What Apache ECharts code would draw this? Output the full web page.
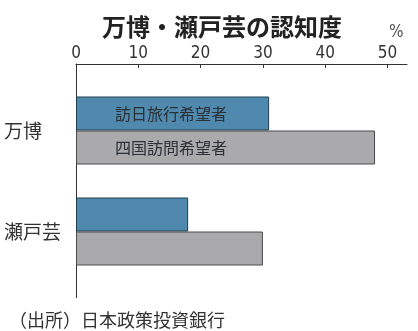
<!DOCTYPE html>
<html>
<head>
<meta charset="utf-8">
<script src="https://cdn.jsdelivr.net/npm/echarts@6/dist/echarts.min.js"></script>
<style>
  html, body { margin: 0; padding: 0; background: #fff; }
  #chart { width: 418px; height: 331px; }
</style>
</head>
<body>
<div id="chart"></div>
<script>
// 認知度（%）
const categories = ['万博', '瀬戸芸'];
const seriesNames = ['訪日旅行希望者', '四国訪問希望者'];
const inboundValues = [31, 18];
const shikokuValues = [48, 30];
const tickValues = [0, 10, 20, 30, 40, 50];

const CJK = "'Noto Sans CJK JP', 'Noto Sans', sans-serif";
const NUM = "'DejaVu Sans Condensed', 'Liberation Sans Narrow', 'Roboto Condensed', sans-serif";
const ink = '#333';

const chart = echarts.init(document.getElementById('chart'), null, { renderer: 'canvas' });

const barLabel = (name) => ({
  show: true,
  position: 'insideLeft',
  distance: 39,
  formatter: name,
  fontFamily: CJK,
  fontSize: 16,
  color: '#2b2f36'
});

chart.setOption({
  animation: false,
  backgroundColor: '#fff',
  title: [
    {
      text: '万博・瀬戸芸の認知度',
      left: 97, top: 10,
      textStyle: { fontFamily: CJK, fontSize: 24, fontWeight: 'bold', color: '#222' }
    },
    {
      text: '%',
      left: 384, top: 19,
      textStyle: { fontFamily: NUM, fontSize: 17, fontWeight: 'normal', color: '#555' }
    },
    {
      text: '（出所）日本政策投資銀行',
      left: 4, top: 306,
      textStyle: { fontFamily: CJK, fontSize: 18, fontWeight: 'normal', color: ink }
    }
  ],
  grid: [
    // bars
    { left: 76, top: 80, width: 311.5, height: 202 },
    // frame lines (top and left)
    { left: 76, top: 64, width: 331, height: 233.7 }
  ],
  xAxis: [
    {
      gridIndex: 0,
      type: 'value',
      position: 'top',
      offset: 16,
      min: tickValues[0],
      max: tickValues[tickValues.length - 1],
      interval: 10,
      axisLine: { show: false },
      axisTick: { show: true, inside: true, length: 4, lineStyle: { color: ink } },
      splitLine: { show: false },
      axisLabel: {
        margin: 2,
        fontFamily: NUM,
        fontSize: 17,
        color: ink,
        formatter: (v) => (tickValues.includes(v) ? String(v) : '')
      }
    },
    {
      gridIndex: 1,
      type: 'value',
      position: 'top',
      axisLine: { show: true, onZero: false, lineStyle: { color: ink, width: 1 } },
      axisTick: { show: false },
      axisLabel: { show: false },
      splitLine: { show: false }
    }
  ],
  yAxis: [
    {
      gridIndex: 0,
      type: 'category',
      inverse: true,
      data: categories,
      axisLine: { show: false },
      axisTick: { show: false },
      axisLabel: {
        align: 'left',
        margin: 72,
        fontFamily: CJK,
        fontSize: 19,
        color: ink,
        padding: [0, 0, 4, 0]
      }
    },
    {
      gridIndex: 1,
      type: 'value',
      position: 'left',
      axisLine: { show: true, onZero: false, lineStyle: { color: ink, width: 1 } },
      axisTick: { show: false },
      axisLabel: { show: false },
      splitLine: { show: false }
    }
  ],
  series: [
    {
      name: seriesNames[0],
      type: 'bar',
      xAxisIndex: 0, yAxisIndex: 0,
      barWidth: 34,
      barGap: '0%',
      itemStyle: { color: '#4f89ad', borderColor: '#223f52', borderWidth: 1 },
      data: inboundValues.map((v, i) => ({ value: v, label: i === 0 ? barLabel(seriesNames[0]) : { show: false } }))
    },
    {
      name: seriesNames[1],
      type: 'bar',
      xAxisIndex: 0, yAxisIndex: 0,
      barWidth: 34,
      barGap: '0%',
      itemStyle: { color: '#aaaaad', borderColor: '#4a4a4a', borderWidth: 1 },
      data: shikokuValues.map((v, i) => ({ value: v, label: i === 0 ? barLabel(seriesNames[1]) : { show: false } }))
    }
  ]
});
</script>
</body>
</html>
